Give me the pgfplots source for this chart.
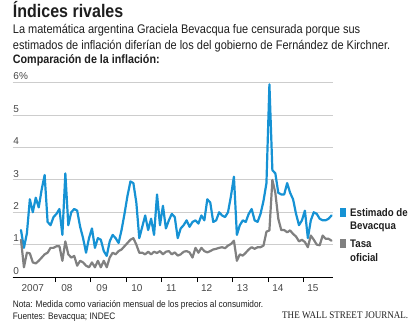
\documentclass[border=0pt]{standalone}
\usepackage{fontspec}
\usepackage{graphicx}
\usepackage{pgfplots}
\usepackage{pgfplotstable}
\pgfplotsset{compat=1.18}
\setmainfont[FakeStretch=0.88]{Liberation Sans}
\newfontfamily\tickfont{Liberation Sans}
\newfontfamily\wsjfont{Liberation Serif}
\definecolor{wsjblue}{RGB}{22,146,212}
\definecolor{wsjgray}{RGB}{128,128,128}
\definecolor{gridgray}{RGB}{205,205,205}
\definecolor{txt}{RGB}{30,30,30}
\definecolor{ticktxt}{RGB}{70,70,70}

% month index: 0 = Jan 2007
\pgfplotstableread{
m v
0 1.45
1 0.9
2 1.35
3 2.4
4 2.0
5 2.45
6 2.15
7 2.7
8 3.15
9 1.7
10 1.6
11 1.85
12 1.95
13 2.1
14 1.3
15 3.2
16 1.6
17 2.0
18 2.1
19 2.05
20 1.55
21 1.2
22 0.75
23 1.2
24 1.5
25 0.9
26 1.2
27 1.15
28 0.8
29 0.65
30 1.1
31 1.3
32 1.2
33 1.05
34 1.45
35 1.95
36 2.5
37 2.95
38 2.9
39 2.3
40 1.2
41 1.55
42 1.9
43 1.45
44 1.8
45 1.3
46 2.55
47 1.6
48 2.2
49 1.5
50 1.75
51 1.95
52 1.85
53 1.2
54 1.5
55 1.6
56 1.75
57 1.55
58 1.7
59 1.75
60 1.65
61 1.9
62 1.75
63 2.4
64 2.3
65 1.7
66 1.75
67 2.0
68 1.9
69 1.85
70 2.0
71 2.5
72 3.1
73 1.3
74 1.6
75 1.75
76 1.7
77 1.95
78 2.1
79 1.75
80 1.7
81 1.95
82 2.35
83 2.9
84 5.95
85 3.3
86 3.2
87 2.6
88 2.55
89 2.55
90 2.9
91 2.6
92 2.4
93 1.95
94 1.6
95 1.75
96 2.05
97 1.2
98 1.75
99 2.0
100 1.95
101 1.8
102 1.75
103 1.75
104 1.8
105 1.9
}\bevacqua

\pgfplotstableread{
m v
0 1.15
1 0.3
2 0.75
3 0.73
4 0.45
5 0.42
6 0.5
7 0.6
8 0.7
9 0.75
10 0.9
11 0.9
12 0.95
13 0.95
14 0.5
15 1.1
16 0.7
17 0.6
18 0.65
19 0.35
20 0.5
21 0.45
22 0.35
23 0.3
24 0.45
25 0.3
26 0.5
27 0.3
28 0.5
29 0.3
30 0.6
31 0.75
32 0.7
33 0.8
34 0.85
35 0.95
36 1.05
37 1.15
38 1.2
39 1.0
40 0.75
41 0.75
42 0.7
43 0.78
44 0.7
45 0.78
46 0.74
47 0.8
48 0.7
49 0.78
50 0.8
51 0.7
52 0.76
53 0.66
54 0.7
55 0.78
56 0.8
57 0.76
58 0.6
59 0.9
60 0.75
61 0.9
62 0.8
63 0.76
64 0.8
65 0.85
66 0.87
67 0.9
68 0.92
69 0.89
70 0.97
71 1.02
72 1.12
73 0.5
74 0.7
75 0.66
76 0.75
77 0.85
78 0.92
79 0.87
80 0.92
81 0.92
82 0.97
83 1.4
84 1.44
85 3.0
86 2.6
87 1.8
88 1.45
89 1.45
90 1.38
91 1.44
92 1.33
93 1.25
94 1.1
95 1.15
96 1.08
97 0.92
98 1.28
99 1.15
100 1.0
101 0.98
102 1.28
103 1.18
104 1.18
105 1.12
}\oficial

\begin{document}
\begin{tikzpicture}[x=1pt,y=1pt]
\useasboundingbox (0,0) rectangle (420,330);

\node[anchor=base west, inner sep=0pt, text=txt] at (12.7,312.3)
  {\fontsize{18.2}{20}\selectfont\bfseries Índices rivales};
\node[anchor=base west, inner sep=0pt, text=txt] at (12.7,296.7)
  {\fontsize{12.5}{14}\selectfont La matemática argentina Graciela Bevacqua fue censurada porque sus};
\node[anchor=base west, inner sep=0pt, text=txt] at (12.7,280)
  {\fontsize{12.5}{14}\selectfont estimados de inflación diferían de los del gobierno de Fernández de Kirchner.};
\node[anchor=base west, inner sep=0pt, text=txt] at (12.7,266.7)
  {\fontsize{12.2}{14}\selectfont\bfseries Comparación de la inflación:};

\begin{axis}[
  at={(12.7pt,53pt)}, anchor=south west,
  scale only axis, width=320.3pt, height=194.3pt,
  xmin=-2.8, xmax=105.5, ymin=0, ymax=6,
  axis lines*=left,
  y axis line style={draw=none},
  x axis line style={black, line width=0.9pt},
  ytick={0,1,2,3,4,5,6},
  yticklabels={0,1,2,3,4,5,6\%},
  ytick style={draw=none},
  ymajorgrids,
  major grid style={gridgray, line width=0.8pt},
  yticklabel style={anchor=south west, inner sep=0pt, xshift=0.6pt, yshift=2.5pt,
     font=\tickfont\fontsize{10}{10}\selectfont, text=ticktxt},
  xtick={11.5,23.5,35.5,47.5,59.5,71.5,83.5,95.5},
  xticklabels={},
  xtick align=outside,
  xtick style={black, line width=0.8pt},
  major tick length=5pt,
  extra x ticks={4,15.5,27.4,39.2,50.8,62.8,74.9,86.9,98.7},
  extra x tick labels={2007,08,09,10,11,12,13,14,15},
  extra x tick style={major tick length=0pt, tick style={draw=none},
     xticklabel style={anchor=north, inner sep=0pt, yshift=-7pt,
     font=\tickfont\fontsize{10}{10}\selectfont, text=ticktxt}},
  /pgf/number format/assume math mode=true,
  clip=false,
]
\addplot[wsjblue, line width=2.2pt, line join=round, line cap=round] table[x=m,y=v]{\bevacqua};
\addplot[wsjgray, line width=2.2pt, line join=round, line cap=round] table[x=m,y=v]{\oficial};
\end{axis}

% legend
\fill[wsjblue] (340,113.3) rectangle (346,122);
\fill[wsjgray] (340,82) rectangle (346,90.7);
\node[anchor=base west, inner sep=0pt, text=txt] at (350,113.3) {\fontsize{11}{12}\selectfont\bfseries Estimado de};
\node[anchor=base west, inner sep=0pt, text=txt] at (350,100.7) {\fontsize{11}{12}\selectfont\bfseries Bevacqua};
\node[anchor=base west, inner sep=0pt, text=txt] at (350,82.3) {\fontsize{11}{12}\selectfont\bfseries Tasa};
\node[anchor=base west, inner sep=0pt, text=txt] at (350,69) {\fontsize{11}{12}\selectfont\bfseries oficial};

% notes
\node[anchor=base west, inner sep=0pt, text=txt] at (12.7,22.7)
  {\fontsize{9.4}{11}\selectfont Nota: Medida como variación mensual de los precios al consumidor.};
\node[anchor=base west, inner sep=0pt, text=txt] at (12.7,10.7)
  {\fontsize{9.4}{11}\selectfont Fuentes: Bevacqua; INDEC};
\node[anchor=base west, inner sep=0pt, text=txt] at (282,11.7)
  {\resizebox{126pt}{6.7pt}{\wsjfont THE WALL STREET JOURNAL.}};
\end{tikzpicture}
\end{document}
